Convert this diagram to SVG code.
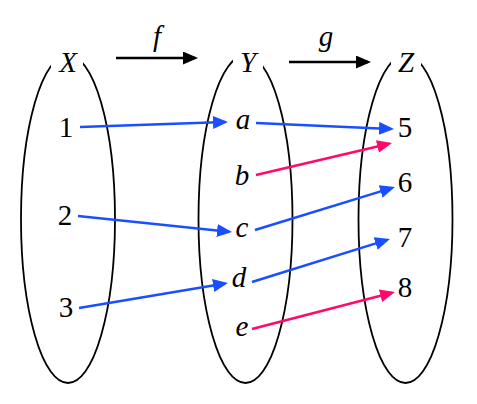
<svg xmlns="http://www.w3.org/2000/svg" width="477" height="404" viewBox="0 0 477 404">
<style>
.set{fill:none;stroke:#000;stroke-width:1.8}
.t{font-family:"Liberation Serif","Times New Roman",serif;font-size:29px;text-anchor:middle;fill:#000}
.i{font-style:italic}
.b{stroke:#1a4fff;stroke-width:2.5;fill:none;marker-end:url(#ab)}
.p{stroke:#ff0a6c;stroke-width:2.5;fill:none;marker-end:url(#ap)}
.k{stroke:#000;stroke-width:2.5;fill:none;marker-end:url(#ak)}
</style>
<defs>
<marker id="ab" markerUnits="userSpaceOnUse" markerWidth="16" markerHeight="13" refX="12" refY="6.5" orient="auto"><path d="M0,0 L15,6.5 L0,13 z" fill="#1a4fff"/></marker>
<marker id="ap" markerUnits="userSpaceOnUse" markerWidth="16" markerHeight="13" refX="12" refY="6.5" orient="auto"><path d="M0,0 L15,6.5 L0,13 z" fill="#ff0a6c"/></marker>
<marker id="ak" markerUnits="userSpaceOnUse" markerWidth="16" markerHeight="13" refX="12" refY="6.5" orient="auto"><path d="M0,0 L15,6.5 L0,13 z" fill="#000"/></marker>
</defs>
<rect width="477" height="404" fill="#fff"/>
<g id="setX">
<ellipse class="set" cx="68" cy="219" rx="47" ry="164"/>
<rect x="51" y="40" width="32" height="28" fill="#fff"/>
<text class="t i" x="68" y="72">X</text>
<text class="t" x="66" y="137">1</text>
<text class="t" x="65" y="225">2</text>
<text class="t" x="66" y="317">3</text>
</g>
<g id="setY">
<ellipse class="set" cx="245.5" cy="219" rx="47" ry="164"/>
<rect x="233" y="40" width="30" height="28" fill="#fff"/>
<text class="t i" x="248" y="72">Y</text>
<text class="t i" x="243" y="129">a</text>
<text class="t i" x="242" y="185">b</text>
<text class="t i" x="242" y="237">c</text>
<text class="t i" x="239" y="287">d</text>
<text class="t i" x="242" y="336">e</text>
</g>
<g id="setZ">
<ellipse class="set" cx="405.5" cy="219" rx="47" ry="164"/>
<rect x="391" y="40" width="30" height="27" fill="#fff"/>
<text class="t i" x="406" y="72">Z</text>
<text class="t" x="405" y="137">5</text>
<text class="t" x="405" y="192">6</text>
<text class="t" x="405" y="247">7</text>
<text class="t" x="405" y="297">8</text>
</g>
<g id="maps">
<line class="k" x1="116" y1="58" x2="195" y2="58"/>
<text class="t i" x="157" y="46">f</text>
<line class="k" x1="289" y1="62" x2="368" y2="62"/>
<text class="t i" x="326" y="46">g</text>
</g>
<g id="connectors">
<line class="b" x1="80" y1="127" x2="225" y2="122.1"/>
<line class="b" x1="256" y1="123" x2="391" y2="128.9"/>
<line class="p" x1="256" y1="175" x2="389.1" y2="143.7"/>
<line class="b" x1="78" y1="216" x2="229" y2="231.7"/>
<line class="b" x1="255" y1="230" x2="392.1" y2="187.9"/>
<line class="b" x1="79" y1="308" x2="225" y2="283.5"/>
<line class="b" x1="252" y1="282" x2="387.1" y2="239.9"/>
<line class="p" x1="252" y1="329" x2="392.1" y2="292.8"/>
</g>
</svg>
